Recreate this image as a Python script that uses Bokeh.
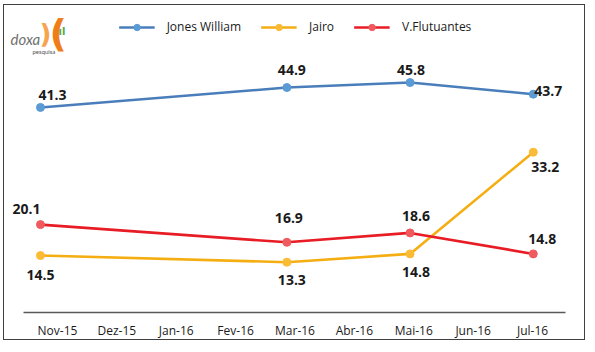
from bokeh.plotting import figure
from bokeh.models import Range1d, FixedTicker, Legend, LegendItem, Label, ColumnDataSource
from bokeh.embed import file_html
from bokeh.resources import INLINE
from bokeh.core.properties import value

# ---- data ----
months = ["Nov-15", "Dez-15", "Jan-16", "Fev-16", "Mar-16", "Abr-16", "Mai-16", "Jun-16", "Jul-16"]
survey_months = ["Nov-15", "Mar-16", "Mai-16", "Jul-16"]
jones_william = [41.3, 44.9, 45.8, 43.7]
jairo = [14.5, 13.3, 14.8, 33.2]
flutuantes = [20.1, 16.9, 18.6, 14.8]

series_names = ["Jones William", "Jairo", "V.Flutuantes"]

# ---- styling ----
line_colors = ["#4a7ebb", "#f5ae12", "#e81c24"]
dot_colors = ["#5b9bd5", "#fbbb35", "#ef5a5e"]
label_offsets = [
    [(12, -12), (5, -18), (1, -13), (15, -3)],
    [(0, 19), (5, 18), (6, 18), (12, 15)],
    [(-14, -16), (2, -24), (6, -17), (9, -15)],
]

xpos = [months.index(m) for m in survey_months]

p = figure(width=582, height=336, output_backend="svg", toolbar_location=None,
           x_range=Range1d(-0.584, 8.864), y_range=Range1d(4.2, 59.2),
           min_border_left=0, min_border_right=0, min_border_top=3, min_border_bottom=29,
           margin=(4, 0, 0, 3), styles={"border": "1px solid #404040"})
p.outline_line_color = None
p.xgrid.grid_line_color = None
p.ygrid.grid_line_color = None
p.yaxis.visible = False
p.background_fill_color = "white"
p.border_fill_color = "white"

tick_pos = [round(0.276 + 0.964 * i, 3) for i in range(len(months))]
p.xaxis.ticker = FixedTicker(ticks=tick_pos)
p.xaxis.major_label_overrides = {t: m for t, m in zip(tick_pos, months)}
p.xaxis.bounds = (-0.276, 8.523)
p.xaxis.major_tick_line_color = None
p.xaxis.minor_tick_line_color = None
p.xaxis.major_tick_in = 0
p.xaxis.major_tick_out = 0
p.xaxis.minor_tick_in = 0
p.xaxis.minor_tick_out = 0
p.xaxis.axis_line_color = "#595959"
p.xaxis.axis_line_width = 1.3
p.xaxis.major_label_standoff = 9
p.xaxis.major_label_text_font = "Open Sans"
p.xaxis.major_label_text_font_size = "12px"
p.xaxis.major_label_text_color = "#1a1a1a"

items = []
for k, vals in enumerate([jones_william, jairo, flutuantes]):
    src = ColumnDataSource(dict(
        x=xpos, y=vals, lab=[f"{v:.1f}" for v in vals],
        dx=[o[0] for o in label_offsets[k]], dy=[o[1] for o in label_offsets[k]]))
    ln = p.line("x", "y", source=src, line_color=line_colors[k], line_width=2.6)
    ci = p.scatter("x", "y", source=src, size=8, fill_color=dot_colors[k], line_color=dot_colors[k])
    p.text("x", "y", text="lab", source=src, x_offset="dx", y_offset="dy",
           text_align="center", text_baseline="middle", text_font=value("Open Sans"),
           text_font_style="bold", text_font_size="14px", text_color="#1a1a1a")
    items.append(LegendItem(label=series_names[k], renderers=[ln, ci]))

legend = Legend(items=items, orientation="horizontal", location="top_center",
                glyph_width=36, glyph_height=16, label_standoff=12, spacing=20,
                padding=0, margin=10, border_line_color=None, background_fill_alpha=0,
                label_text_font="Open Sans", label_text_font_size="12px",
                label_text_color="#1a1a1a")
p.add_layout(legend)

# logo (approximation)
p.add_layout(Label(x=6, y=265, x_units="screen", y_units="screen", text="doxa",
                   text_font="Lato", text_font_style="italic", text_font_size="15px",
                   text_color="#707070"))
p.add_layout(Label(x=28, y=258, x_units="screen", y_units="screen", text="pesquisa",
                   text_font="Lato", text_font_size="6px", text_color="#505050"))
p.add_layout(Label(x=35, y=264, x_units="screen", y_units="screen", text=")",
                   text_font="DejaVu Sans", text_font_style="bold", text_font_size="26px",
                   text_color="#f7a350"))
p.add_layout(Label(x=45, y=258, x_units="screen", y_units="screen", text="(",
                   text_font="DejaVu Sans", text_font_style="bold", text_font_size="38px",
                   text_color="#ef7d1a"))
p.add_layout(Label(x=54, y=276, x_units="screen", y_units="screen", text="ıl",
                   text_font="DejaVu Sans", text_font_style="bold", text_font_size="10px",
                   text_color="#5aa845"))

open("out.html", "w").write(file_html(p, INLINE))
